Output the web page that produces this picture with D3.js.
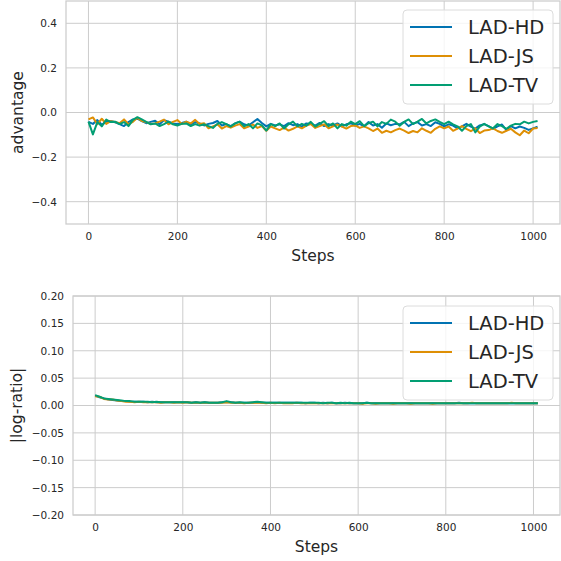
<!DOCTYPE html>
<html lang="en">
<head>
  <meta charset="UTF-8">
  <title>LAD advantage / log-ratio</title>
  <style>
    body { margin: 0; background: #fff; }
    svg { display: block; font-family: "DejaVu Sans", sans-serif; }
  </style>
</head>
<body>
  <div id="chart"></div>
  <script src="https://d3js.org/d3.v7.min.js"></script>
  <script>
    // series + ticks
    var seriesNames = ['LAD-HD', 'LAD-JS', 'LAD-TV']
    var seriesColors = ['#0173b2', '#de8f05', '#029e73']
    var steps = d3.range(0, 1011, 10)
    var stepTicks = [0, 200, 400, 600, 800, 1000]
    var advTicks = [-0.4, -0.2, 0, 0.2, 0.4]
    var ratioTicks = [-0.2, -0.15, -0.1, -0.05, 0, 0.05, 0.1, 0.15, 0.2]

    var advHD = [
      -0.042,-0.051,-0.034,-0.055,-0.041,-0.038,-0.044,-0.052,-0.061,-0.043,
      -0.031,-0.028,-0.039,-0.048,-0.042,-0.037,-0.053,-0.034,-0.041,-0.049,
      -0.052,-0.047,-0.041,-0.054,-0.043,-0.049,-0.058,-0.051,-0.047,-0.038,
      -0.058,-0.052,-0.061,-0.049,-0.041,-0.053,-0.059,-0.044,-0.029,-0.047,
      -0.062,-0.051,-0.058,-0.053,-0.061,-0.048,-0.057,-0.052,-0.063,-0.049,
      -0.051,-0.059,-0.047,-0.061,-0.052,-0.058,-0.049,-0.062,-0.053,-0.048,
      -0.059,-0.051,-0.062,-0.043,-0.058,-0.052,-0.068,-0.049,-0.057,-0.051,
      -0.053,-0.042,-0.061,-0.049,-0.043,-0.058,-0.052,-0.061,-0.044,-0.051,
      -0.062,-0.053,-0.059,-0.071,-0.062,-0.051,-0.063,-0.072,-0.058,-0.052,
      -0.061,-0.073,-0.062,-0.054,-0.079,-0.061,-0.071,-0.063,-0.069,-0.078,
      -0.071,-0.064]
    var advJS = [
      -0.031,-0.022,-0.052,-0.028,-0.051,-0.039,-0.043,-0.048,-0.031,-0.052,
      -0.042,-0.024,-0.038,-0.043,-0.051,-0.049,-0.041,-0.032,-0.053,-0.042,
      -0.034,-0.052,-0.041,-0.049,-0.033,-0.052,-0.048,-0.071,-0.062,-0.053,
      -0.072,-0.061,-0.068,-0.059,-0.052,-0.071,-0.063,-0.054,-0.069,-0.061,
      -0.082,-0.063,-0.071,-0.079,-0.068,-0.081,-0.073,-0.062,-0.071,-0.059,
      -0.052,-0.069,-0.061,-0.053,-0.071,-0.062,-0.054,-0.063,-0.072,-0.061,
      -0.058,-0.069,-0.062,-0.071,-0.083,-0.072,-0.091,-0.082,-0.089,-0.079,
      -0.072,-0.081,-0.092,-0.083,-0.089,-0.071,-0.082,-0.091,-0.073,-0.062,
      -0.071,-0.063,-0.082,-0.072,-0.061,-0.073,-0.084,-0.071,-0.092,-0.081,
      -0.079,-0.071,-0.083,-0.091,-0.082,-0.073,-0.089,-0.102,-0.081,-0.093,
      -0.072,-0.069]
    var advTV = [
      -0.041,-0.098,-0.043,-0.062,-0.032,-0.043,-0.041,-0.052,-0.043,-0.061,
      -0.033,-0.021,-0.031,-0.042,-0.053,-0.049,-0.061,-0.052,-0.041,-0.053,
      -0.058,-0.051,-0.049,-0.061,-0.052,-0.059,-0.053,-0.061,-0.069,-0.051,
      -0.043,-0.052,-0.063,-0.049,-0.041,-0.062,-0.052,-0.071,-0.049,-0.058,
      -0.081,-0.052,-0.061,-0.049,-0.072,-0.053,-0.041,-0.062,-0.051,-0.059,
      -0.042,-0.063,-0.051,-0.039,-0.061,-0.049,-0.071,-0.052,-0.059,-0.041,
      -0.052,-0.039,-0.061,-0.048,-0.041,-0.062,-0.043,-0.051,-0.032,-0.041,
      -0.059,-0.042,-0.031,-0.052,-0.041,-0.029,-0.049,-0.038,-0.031,-0.042,
      -0.052,-0.041,-0.053,-0.062,-0.082,-0.061,-0.052,-0.089,-0.063,-0.051,
      -0.062,-0.071,-0.052,-0.061,-0.073,-0.059,-0.051,-0.053,-0.041,-0.049,
      -0.042,-0.038]

    var ratioHD = [
      0.018,0.015,0.013,0.011,0.010,0.009,0.008,0.008,0.007,0.007,
      0.007,0.007,0.006,0.007,0.006,0.006,0.006,0.006,0.006,0.006,
      0.006,0.006,0.005,0.006,0.005,0.006,0.005,0.005,0.005,0.006,
      0.006,0.006,0.005,0.005,0.005,0.005,0.005,0.006,0.005,0.005,
      0.005,0.005,0.005,0.005,0.005,0.005,0.005,0.005,0.004,0.005,
      0.005,0.004,0.005,0.004,0.005,0.004,0.004,0.005,0.004,0.004,
      0.004,0.004,0.005,0.004,0.004,0.004,0.004,0.004,0.004,0.004,
      0.004,0.004,0.004,0.004,0.004,0.004,0.004,0.004,0.004,0.004,
      0.004,0.004,0.004,0.005,0.004,0.004,0.004,0.004,0.004,0.004,
      0.004,0.004,0.004,0.004,0.004,0.004,0.004,0.004,0.004,0.004,
      0.004,0.004]
    var ratioJS = [
      0.017,0.016,0.012,0.011,0.011,0.009,0.008,0.007,0.007,0.006,
      0.007,0.006,0.006,0.006,0.006,0.005,0.006,0.006,0.005,0.006,
      0.005,0.006,0.005,0.005,0.005,0.005,0.005,0.005,0.005,0.005,
      0.006,0.005,0.005,0.005,0.004,0.005,0.005,0.005,0.005,0.004,
      0.005,0.004,0.005,0.004,0.004,0.004,0.005,0.004,0.004,0.004,
      0.004,0.004,0.004,0.004,0.004,0.004,0.004,0.004,0.004,0.004,
      0.004,0.003,0.004,0.004,0.003,0.004,0.004,0.004,0.003,0.004,
      0.004,0.004,0.003,0.004,0.004,0.004,0.004,0.003,0.004,0.004,
      0.004,0.004,0.004,0.004,0.004,0.004,0.005,0.004,0.004,0.004,
      0.004,0.004,0.004,0.004,0.004,0.005,0.004,0.004,0.004,0.004,
      0.004,0.004]
    var ratioTV = [
      0.019,0.016,0.013,0.012,0.011,0.010,0.009,0.008,0.008,0.007,
      0.007,0.007,0.007,0.006,0.007,0.006,0.006,0.006,0.006,0.006,
      0.006,0.006,0.005,0.006,0.005,0.006,0.005,0.005,0.005,0.006,
      0.008,0.006,0.005,0.006,0.005,0.005,0.006,0.007,0.006,0.005,
      0.005,0.005,0.005,0.005,0.005,0.005,0.005,0.005,0.005,0.005,
      0.005,0.005,0.004,0.005,0.005,0.004,0.005,0.004,0.005,0.004,
      0.004,0.004,0.005,0.004,0.004,0.004,0.004,0.004,0.004,0.004,
      0.004,0.004,0.004,0.004,0.004,0.004,0.004,0.004,0.004,0.004,
      0.004,0.004,0.004,0.004,0.004,0.004,0.004,0.004,0.004,0.004,
      0.004,0.004,0.004,0.004,0.004,0.004,0.004,0.004,0.004,0.004,
      0.004,0.004]

    var width = 561, height = 561
    var gridColor = '#cccccc', textColor = '#262626'

    var svg = d3.select('#chart').append('svg')
      .attr('width', width)
      .attr('height', height)

    function panel (opts) {
      var x = d3.scaleLinear().domain([-50.5, 1060.5]).range([opts.left, opts.right])
      var y = d3.scaleLinear().domain(opts.ydomain).range([opts.bottom, opts.top])
      var g = svg.append('g')

      // grid
      g.selectAll('line.vgrid').data(stepTicks).enter().append('line')
        .attr('x1', function (d) { return x(d) }).attr('x2', function (d) { return x(d) })
        .attr('y1', opts.top).attr('y2', opts.bottom)
        .attr('stroke', gridColor).attr('stroke-width', 1)
      g.selectAll('line.hgrid').data(opts.yticks).enter().append('line')
        .attr('y1', function (d) { return y(d) }).attr('y2', function (d) { return y(d) })
        .attr('x1', opts.left).attr('x2', opts.right)
        .attr('stroke', gridColor).attr('stroke-width', 1)

      // axes (no tick marks, seaborn whitegrid look)
      var xAxis = g.append('g')
        .attr('transform', 'translate(0,' + opts.bottom + ')')
        .call(d3.axisBottom(x).tickValues(stepTicks).tickSize(0).tickPadding(9).tickFormat(d3.format('d')))
      var yAxis = g.append('g')
        .attr('transform', 'translate(' + opts.left + ',0)')
        .call(d3.axisLeft(y).tickValues(opts.yticks).tickSize(0).tickPadding(9).tickFormat(d3.format(opts.fmt)))
      ;[xAxis, yAxis].forEach(function (a) {
        a.select('.domain').remove()
        a.selectAll('text').attr('fill', textColor).style('font-size', '10.5px')
          .style('font-family', '"DejaVu Sans", sans-serif')
      })

      // lines
      var line = d3.line()
        .x(function (d) { return x(d[0]) })
        .y(function (d) { return y(d[1]) })
      opts.series.forEach(function (vals, i) {
        g.append('path')
          .datum(steps.map(function (s, j) { return [s, vals[j]] }))
          .attr('fill', 'none')
          .attr('stroke', seriesColors[i])
          .attr('stroke-width', 2)
          .attr('stroke-linejoin', 'round')
          .attr('d', line)
      })

      // frame
      g.append('rect')
        .attr('x', opts.left).attr('y', opts.top)
        .attr('width', opts.right - opts.left).attr('height', opts.bottom - opts.top)
        .attr('fill', 'none').attr('stroke', gridColor).attr('stroke-width', 1.25)

      // labels
      g.append('text')
        .attr('x', (opts.left + opts.right) / 2).attr('y', opts.bottom + 37)
        .attr('text-anchor', 'middle').attr('fill', textColor)
        .style('font-size', '15.5px').text('Steps')
      g.append('text')
        .attr('transform', 'translate(' + opts.ylabelX + ',' + (opts.top + opts.bottom) / 2 + ') rotate(-90)')
        .attr('text-anchor', 'middle').attr('fill', textColor)
        .style('font-size', '15.5px').text(opts.ylabel)

      // legend
      var lg = g.append('g').attr('transform', 'translate(403,' + opts.legendY + ')')
      lg.append('rect')
        .attr('width', 150).attr('height', 94).attr('rx', 4)
        .attr('fill', '#fff').attr('fill-opacity', 0.8)
        .attr('stroke', '#dcdcdc').attr('stroke-width', 1)
      seriesNames.forEach(function (name, i) {
        var cy = 17 + i * 29
        lg.append('line')
          .attr('x1', 7).attr('x2', 49).attr('y1', cy).attr('y2', cy)
          .attr('stroke', seriesColors[i]).attr('stroke-width', 2)
        lg.append('text')
          .attr('x', 65).attr('y', cy + 7)
          .attr('fill', textColor).style('font-size', '19.5px').text(name)
      })
    }

    panel({
      top: 1, bottom: 224, left: 66, right: 560,
      ydomain: [-0.5, 0.5], yticks: advTicks, fmt: '.1f',
      ylabel: 'advantage', ylabelX: 23, legendY: 10,
      series: [advHD, advJS, advTV]
    })
    panel({
      top: 296, bottom: 515, left: 73, right: 560,
      ydomain: [-0.2, 0.2], yticks: ratioTicks, fmt: '.2f',
      ylabel: '|log-ratio|', ylabelX: 22, legendY: 306,
      series: [ratioHD, ratioJS, ratioTV]
    })
  </script>
</body>
</html>
